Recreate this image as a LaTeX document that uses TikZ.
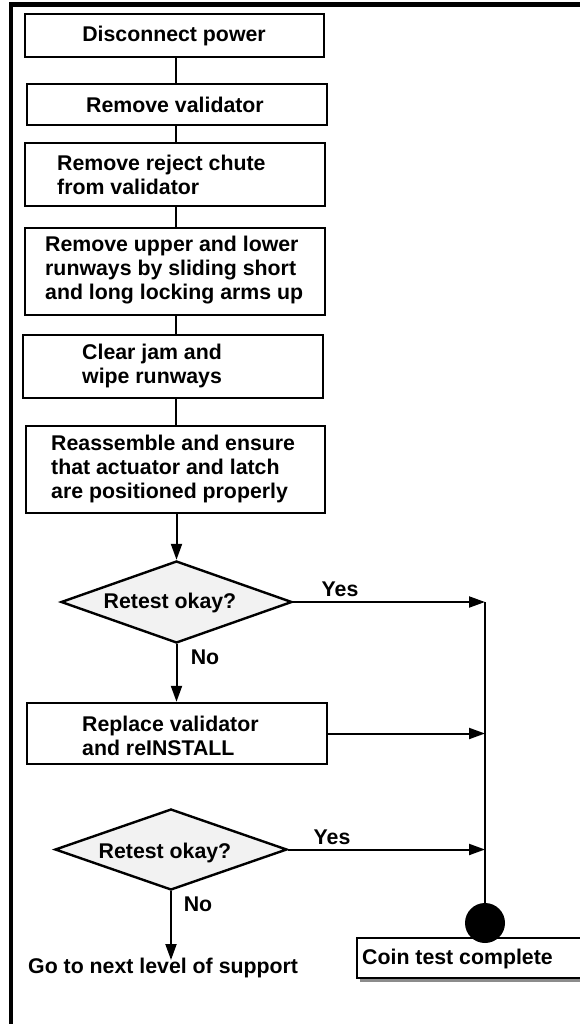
\documentclass[tikz,border=0pt]{standalone}
\usepackage{fontspec}
\setmainfont{Liberation Sans}
\usetikzlibrary{shapes.geometric,arrows.meta}

\begin{document}
\begin{tikzpicture}[x=1pt,y=-1pt,
  stepbox/.style={draw, line width=2.4pt, rectangle, inner sep=0pt},
  decision/.style={draw, line width=2.4pt, diamond, inner sep=0pt, fill=black!5},
  lbl/.style={font=\bfseries\fontsize{21.3}{24}\selectfont, align=left, inner sep=0pt},
  link/.style={line width=2pt},
  flow/.style={line width=2pt, -{Triangle[length=16pt,width=11pt]}},
  frame/.style={line width=4.5pt}
]
\useasboundingbox (0,0) rectangle (580,1024);

% outer frame (top and left edges)
\draw[frame] (9,4.5) -- (580,4.5);
\draw[frame] (11,2.5) -- (11,1024);

% guide positions
\coordinate (spine) at (176,0);
\coordinate (rail) at (485,0);

% process steps
\node[stepbox, minimum width=299pt, minimum height=43pt] (b1) at (174.5,35.5) {};
\node[lbl] (t1) at (174,35.5) {Disconnect power};

\node[stepbox, minimum width=300pt, minimum height=41pt] (b2) at (177,104.5) {};
\node[lbl] (t2) at (175,104.5) {Remove validator};

\node[stepbox, minimum width=300pt, minimum height=63pt] (b3) at (175,174.5) {};
\node[lbl, anchor=west] (t3) at (57,175) {Remove reject chute\\from validator};

\node[stepbox, minimum width=300pt, minimum height=87pt] (b4) at (175,271.5) {};
\node[lbl, anchor=west] (t4) at (45,270) {Remove upper and lower\\runways by sliding short\\and long locking arms up};

\node[stepbox, minimum width=300pt, minimum height=63pt] (b5) at (173,366.5) {};
\node[lbl, anchor=west] (t5) at (82,366) {Clear jam and\\wipe runways};

\node[stepbox, minimum width=299pt, minimum height=87pt] (b6) at (175.5,469.5) {};
\node[lbl, anchor=west] (t6) at (51,469) {Reassemble and ensure\\that actuator and latch\\are positioned properly};

% first retest
\node[decision, minimum width=231pt, minimum height=82pt] (d1) at (176.5,602) {};
\node[lbl] (q1) at (170,603) {Retest okay?};

\node[stepbox, minimum width=300pt, minimum height=61pt] (b7) at (177,733.5) {};
\node[lbl, anchor=west] (t7) at (82,736) {Replace validator\\and reINSTALL};

% second retest
\node[decision, minimum width=232pt, minimum height=81pt] (d2) at (171,849.5) {};
\node[lbl] (q2) at (165,853) {Retest okay?};

% outcomes
\node[lbl, anchor=west] (go) at (28,968) {Go to next level of support};
\coordinate (goend) at (171,960);

\fill[black!45] (360,942) rectangle (600,982);
\node[stepbox, fill=white, minimum width=263pt, minimum height=40pt] (done) at (488.5,958) {};
\node[lbl, anchor=west] (tdone) at (362,959) {Coin test complete};
\node[circle, fill=black, minimum size=40pt, inner sep=0pt] (dot) at (485,923) {};

% connectors between steps
\draw[link] (b1.south -| spine) -- (b2.north -| spine);
\draw[link] (b2.south -| spine) -- (b3.north -| spine);
\draw[link] (b3.south -| spine) -- (b4.north -| spine);
\draw[link] (b4.south -| spine) -- (b5.north -| spine);
\draw[link] (b5.south -| spine) -- (b6.north -| spine);
\draw[flow] (b6.south -| d1.north) -- (d1.north);

% decision branches
\draw[flow] (d1.east) -- (d1.east -| rail);
\draw[flow] (d1.south) -- (b7.north -| d1.south);
\draw[flow] (b7.east) -- (b7.east -| rail);
\draw[flow] (d2.east) -- (d2.east -| rail);
\draw[flow] (d2.south) -- (goend);
\draw[link] (d1.east -| rail) -- (dot.north);

% branch labels
\node[lbl] (y1) at (340,589) {Yes};
\node[lbl] (n1) at (205,657) {No};
\node[lbl] (y2) at (332,837) {Yes};
\node[lbl] (n2) at (198,904) {No};
\end{tikzpicture}
\end{document}
